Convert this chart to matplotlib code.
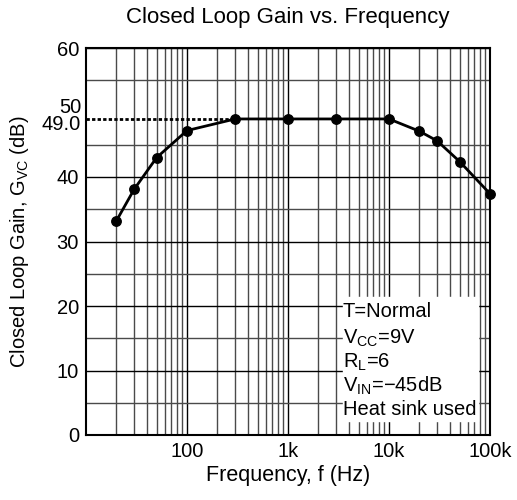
import numpy as np
from matplotlib import pyplot as plt
from matplotlib.ticker import FixedLocator, NullFormatter

plt.rcParams['font.family'] = ['Liberation Sans', 'DejaVu Sans']

## Donnees
freq = [20, 30, 50, 100, 300, 1000, 3000, 10000, 20000, 30000, 50000, 100000]
gain = [33.2, 38.1, 43.0, 47.2, 49.0, 49.0, 49.0, 49.0, 47.1, 45.6, 42.4, 37.4]
ref_gain = 49.0
xticks = [100, 1000, 10000, 100000]
xlabels = ['100', '1k', '10k', '100k']
yticks = [0, 10, 20, 30, 40, 60]
conditions = ['T=Normal', r'V$_{\mathregular{CC}}$=9V', r'R$_{\mathregular{L}}$=6',
              r'V$_{\mathregular{IN}}$=−45dB', 'Heat sink used']

## Figure
fig = plt.figure(figsize=(5.17, 5.0), dpi=100)
ax = fig.add_axes([0.1663, 0.13, 0.7815, 0.774])
ax.set_xscale('log')
ax.set_xlim(10, 100000)
ax.set_ylim(0, 60)

# grille : toutes les lignes log en x, pas de 5 en y
minors = [m * 10**d for d in range(1, 5) for m in range(2, 10)]
ax.xaxis.set_major_locator(FixedLocator([10, 100, 1000, 10000, 100000]))
ax.xaxis.set_minor_locator(FixedLocator(minors))
ax.xaxis.set_minor_formatter(NullFormatter())
ax.yaxis.set_major_locator(FixedLocator(np.arange(0, 61, 10)))
ax.yaxis.set_minor_locator(FixedLocator(np.arange(5, 60, 10)))
ax.grid(True, which='major', color='black', linewidth=1.0)
ax.grid(True, which='minor', color='#4a4a4a', linewidth=1.0)
ax.set_axisbelow(True)

ax.set_xticks(xticks)
ax.set_xticklabels(xlabels)
ax.set_yticks(yticks)
ax.tick_params(which='both', length=0, labelsize=14.5, pad=5)

# cadre des conditions (fond blanc sur la grille)
ax.axvspan(3500, 76000, ymin=2.1/60, ymax=21.4/60, color='white', zorder=1.5)
ty = [18.3, 14.1, 10.5, 6.7, 3.1]
for t, y in zip(conditions, ty):
    ax.text(3500, y, t, fontsize=14.5, va='baseline', ha='left', zorder=3)

# ligne pointillee de reference
ax.plot([10, 300], [ref_gain, ref_gain], color='black', linestyle=(0, (1.2, 0.8)),
        linewidth=2, zorder=3)
ax.text(-0.012, 48.1, '49.0', transform=ax.get_yaxis_transform(),
        ha='right', va='center', fontsize=14.5)
ax.text(-0.012, 50.7, '50', transform=ax.get_yaxis_transform(),
        ha='right', va='center', fontsize=14.5)

ax.plot(freq, gain, color='black', linewidth=2, marker='o', markersize=6.8,
        zorder=4, clip_on=False)

for s in ax.spines.values():
    s.set_linewidth(1.5)
    s.set_zorder(5)

ax.set_xlabel('Frequency, f (Hz)', fontsize=15.5, labelpad=3)
ax.set_ylabel(r'Closed Loop Gain, G$_{\mathregular{VC}}$ (dB)', fontsize=14.5)
ax.yaxis.set_label_coords(-0.135, 0.5)
fig.text(0.557, 0.965, 'Closed Loop Gain vs. Frequency', ha='center', va='center', fontsize=16)

plt.savefig('out.png', dpi=100)
